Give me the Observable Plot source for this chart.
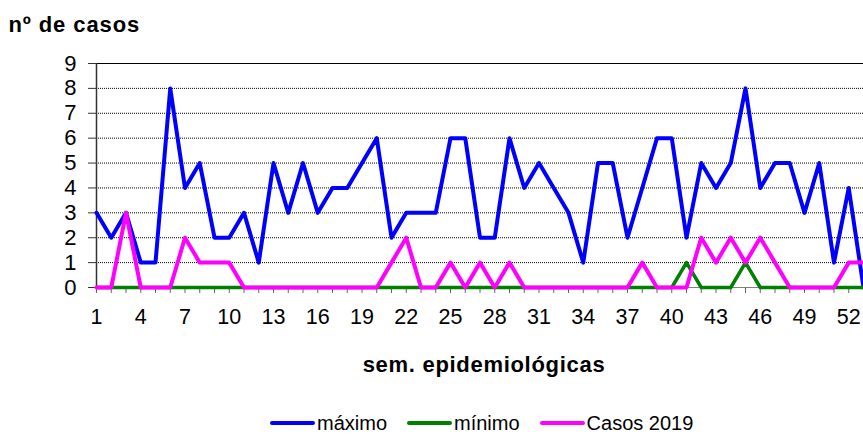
<!DOCTYPE html>
<html>
<head>
<meta charset="utf-8">
<script src="https://cdn.jsdelivr.net/npm/d3@7"></script>
<script src="https://cdn.jsdelivr.net/npm/@observablehq/plot@0.6"></script>
<style>
  html, body { margin: 0; padding: 0; background: #fff; }
  #wrap { position: relative; width: 863px; height: 435px; overflow: hidden; font-family: "Liberation Sans", Arial, sans-serif; }
  #legend { position: absolute; left: 270px; top: 413px; display: flex; align-items: center; font-size: 20px; line-height: 20px; color: #000; white-space: nowrap; }
  .sw { display: inline-block; width: 45px; height: 4px; border-radius: 2px; margin-right: 2px; }
  .it { display: flex; align-items: center; }
</style>
</head>
<body>
<div id="wrap"></div>
<script>
const weeks = [1,2,3,4,5,6,7,8,9,10,11,12,13,14,15,16,17,18,19,20,21,22,23,24,25,26,27,28,29,30,31,32,33,34,35,36,37,38,39,40,41,42,43,44,45,46,47,48,49,50,51,52,53];
const maximo = [3,2,3,1,1,8,4,5,2,2,3,1,5,3,5,3,4,4,5,6,2,3,3,3,6,6,2,2,6,4,5,4,3,1,5,5,2,4,6,6,2,5,4,5,8,4,5,5,3,5,1,4,0];
const minimo = [0,0,0,0,0,0,0,0,0,0,0,0,0,0,0,0,0,0,0,0,0,0,0,0,0,0,0,0,0,0,0,0,0,0,0,0,0,0,0,0,1,0,0,0,1,0,0,0,0,0,0,0,0];
const casos2019 = [0,0,3,0,0,0,2,1,1,1,0,0,0,0,0,0,0,0,0,0,1,2,0,0,1,0,1,0,1,0,0,0,0,0,0,0,0,1,0,0,0,2,1,2,1,2,1,0,0,0,0,1,1];
const xTickLabels = [1,4,7,10,13,16,19,22,25,28,31,34,37,40,43,46,49,52];
const yTicks = [0,1,2,3,4,5,6,7,8,9];
const seriesNames = ["máximo", "mínimo", "Casos 2019"];
const seriesColors = ["#0000ff", "#008000", "#ff00ff"];
const titleText = "nº de casos";
const xTitle = "sem. epidemiológicas";

const rows = (vals) => weeks.map((w, i) => ({week: w, value: vals[i]}));

const chart = Plot.plot({
  width: 863,
  height: 435,
  marginTop: 63,
  marginBottom: 148,
  marginLeft: 96,
  marginRight: 0,
  style: { fontFamily: "'Liberation Sans', Arial, sans-serif", fontSize: "21px", color: "#000", background: "#fff", overflow: "visible" },
  x: { type: "linear", domain: [1, 53] },
  y: { domain: [0, 9] },
  marks: [
    Plot.gridY(yTicks.filter(v => v < d3.max(yTicks)), { stroke: "#000", strokeOpacity: 1, strokeDasharray: "1,1" }),
    Plot.ruleY([d3.max(yTicks)], { stroke: "#000", strokeWidth: 1 }),
    Plot.ruleY([0], { stroke: "#808080" }),
    Plot.ruleX([1], { stroke: "#333", strokeWidth: 1.5 }),
    Plot.axisY({ ticks: yTicks, tickSize: 8, tickPadding: 12, fontSize: 22, stroke: "#333", label: null }),
    Plot.axisX({ ticks: weeks, tickSize: 6, tickFormat: () => "", stroke: "#666", label: null }),
    Plot.axisX({ ticks: xTickLabels, tickSize: 0, tickPadding: 21, fontSize: 21.5, label: null }),
    Plot.line(rows(maximo), { x: "week", y: "value", stroke: seriesColors[0], strokeWidth: 4, strokeLinejoin: "round" }),
    Plot.line(rows(minimo), { x: "week", y: "value", stroke: seriesColors[1], strokeWidth: 3.5, strokeLinejoin: "round" }),
    Plot.line(rows(casos2019), { x: "week", y: "value", stroke: seriesColors[2], strokeWidth: 4, strokeLinejoin: "round" }),
    Plot.text([titleText], { frameAnchor: "top-left", dx: -88, dy: -39, textAnchor: "start", lineAnchor: "middle", fontSize: 22, fontWeight: "bold" }),
    Plot.text([xTitle], { frameAnchor: "bottom", dx: 4, dy: 77, lineAnchor: "middle", fontSize: 22, fontWeight: "bold" })
  ]
});

chart.querySelectorAll("text").forEach(t => {
  if (t.textContent === titleText) t.style.letterSpacing = "0.9px";
  if (t.textContent === xTitle) t.style.letterSpacing = "0.7px";
});

const wrap = document.getElementById("wrap");
wrap.appendChild(chart);

const legend = document.createElement("div");
legend.id = "legend";
seriesNames.forEach((name, i) => {
  const it = document.createElement("span");
  it.className = "it";
  it.style.marginRight = i < seriesNames.length - 1 ? "20px" : "0";
  const sw = document.createElement("span");
  sw.className = "sw";
  sw.style.background = seriesColors[i];
  const tx = document.createElement("span");
  tx.textContent = name;
  it.appendChild(sw);
  it.appendChild(tx);
  legend.appendChild(it);
});
wrap.appendChild(legend);
</script>
</body>
</html>
